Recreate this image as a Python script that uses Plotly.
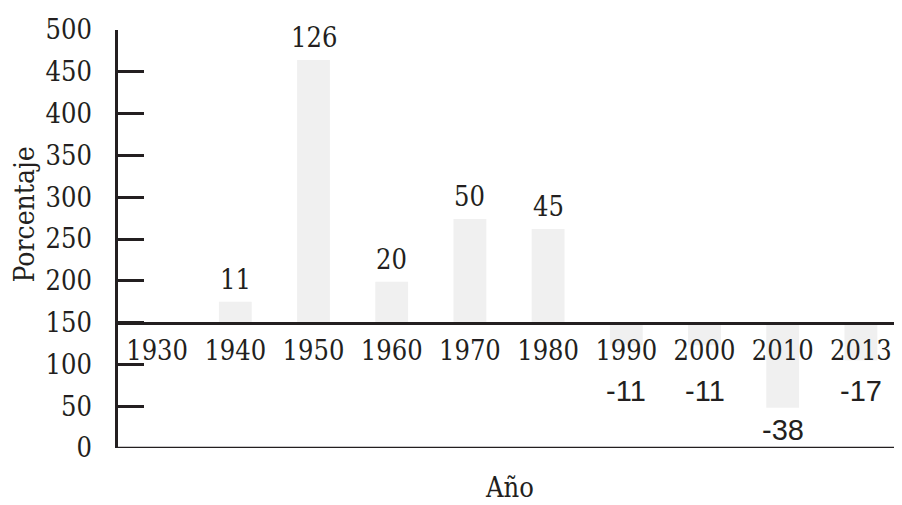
import plotly.graph_objects as go

years = ["1930", "1940", "1950", "1960", "1970", "1980", "1990", "2000", "2010", "2013"]
base_value = 150
bar_delta = [0, 25, 314, 49, 124, 112, -27, -27, -102, -45]
pct_labels = ["", "11", "126", "20", "50", "45", "-11", "-11", "-38", "-17"]
y_ticks = [0, 50, 100, 150, 200, 250, 300, 350, 400, 450, 500]

SERIF = "DejaVu Serif Condensed, DejaVu Serif, serif"
SANS = "Liberation Sans, Arial, sans-serif"
INK = "#231f20"

fig = go.Figure()
fig.add_trace(go.Bar(
    x=years, y=bar_delta, base=base_value,
    marker=dict(color="#f0f0f0", line=dict(width=0)),
    hoverinfo="skip",
))

annotations = []
for i, (d, lab) in enumerate(zip(bar_delta, pct_labels)):
    if not lab:
        continue
    end = base_value + d
    if d >= 0:
        annotations.append(dict(x=i, y=end, text=lab, showarrow=False,
                                xref="x", yref="y", yanchor="bottom", yshift=5,
                                font=dict(family=SERIF, size=27, color=INK)))
    else:
        annotations.append(dict(x=i, y=min(end - 6, 88), text=lab, showarrow=False,
                                xref="x", yref="y", yanchor="top", yshift=1,
                                font=dict(family=SANS, size=29, color=INK)))

annotations.append(dict(text="Año", x=0.5, y=-0.094, xref="paper", yref="paper",
                        xanchor="center", yanchor="middle", showarrow=False,
                        font=dict(family=SERIF, size=27, color=INK)))
annotations.append(dict(text="Porcentaje", x=-0.12, y=0.559, xref="paper", yref="paper",
                        xanchor="center", yanchor="middle", showarrow=False, textangle=-90,
                        font=dict(family=SERIF, size=28, color=INK)))

fig.update_layout(
    width=902, height=505,
    margin=dict(l=110, r=10, t=22, b=65, autoexpand=False),
    paper_bgcolor="white", plot_bgcolor="white",
    showlegend=False, bargap=0.58,
    annotations=annotations,
    shapes=[dict(type="line", xref="paper", yref="y", x0=0, x1=1, y0=0, y1=0,
                 line=dict(color=INK, width=2.5))],
    xaxis=dict(type="category", showgrid=False, showline=True, linecolor=INK, linewidth=2.5,
               anchor="free", position=base_value / 500, ticks="", ticklabelstandoff=3,
               tickfont=dict(family=SERIF, size=27, color=INK), zeroline=False,
               range=[-0.5, 9.5], automargin=False),
    yaxis=dict(range=[0, 500], tickvals=y_ticks, showgrid=False, zeroline=False,
               showline=True, linecolor=INK, linewidth=2.5,
               ticks="inside", ticklen=26, tickwidth=2.5, tickcolor=INK,
               ticklabelstandoff=18, automargin=False,
               tickfont=dict(family=SERIF, size=27, color=INK)),
)

fig.write_html("out.html")
